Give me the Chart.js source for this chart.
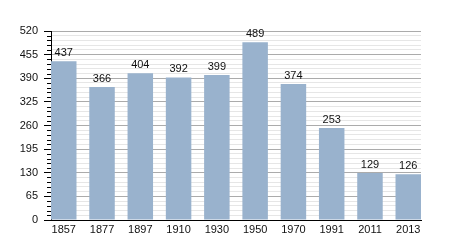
<!DOCTYPE html>
<html>
<head>
<meta charset="utf-8">
<script src="https://cdn.jsdelivr.net/npm/chart.js@4/dist/chart.umd.min.js"></script>
<style>
html,body{margin:0;padding:0;background:#fff;}
#wrap{width:450px;height:250px;}
</style>
</head>
<body>
<div id="wrap"><canvas id="c" width="450" height="250"></canvas></div>
<script>
const years = ["1857","1877","1897","1910","1930","1950","1970","1991","2011","2013"];
const population = [437,366,404,392,399,489,374,253,129,126];
const yMax = 520;
const majorStep = 65;
const minorStep = 13;

const font = {family:"'Liberation Sans', Arial, sans-serif", size:11};

const labelPlugin = {
  id:'labels',
  afterDatasetsDraw(chart){
    const ctx = chart.ctx;
    const meta = chart.getDatasetMeta(0);
    ctx.save();
    ctx.font = "11px 'Liberation Sans', Arial, sans-serif";
    ctx.fillStyle = '#111';
    ctx.textAlign = 'center';
    ctx.textBaseline = 'bottom';
    meta.data.forEach((el,i)=>{
      ctx.fillText(String(population[i]), el.x, el.y - 3);
    });
    ctx.restore();
  }
};

const minorTickPlugin = {
  id:'minorTicks',
  afterDraw(chart){
    const y = chart.scales.y;
    const ctx = chart.ctx;
    const left = chart.chartArea.left;
    ctx.save();
    ctx.strokeStyle = '#000';
    ctx.lineWidth = 1;
    y.ticks.forEach(t=>{
      if (t.value % majorStep !== 0) {
        const py = Math.round(y.getPixelForValue(t.value)) + 0.5;
        ctx.beginPath();
        ctx.moveTo(left - 4, py);
        ctx.lineTo(left, py);
        ctx.stroke();
      }
    });
    ctx.restore();
  }
};

new Chart(document.getElementById('c'), {
  type:'bar',
  data:{
    datasets:[{
      data: population.map((v,i)=>({x:i,y:v})),
      backgroundColor:'#99b2cd',
      borderWidth:0,
      categoryPercentage:1,
      barPercentage:0.666
    }]
  },
  options:{
    responsive:false,
    animation:false,
    layout:{padding:{left:0,right:29,top:31,bottom:0}},
    plugins:{legend:{display:false},tooltip:{enabled:false}},
    scales:{
      x:{
        type:'linear',
        offset:false,
        min:-0.333,
        max:9.333,
        afterBuildTicks(scale){ scale.ticks = years.map((_,i)=>({value:i})); },
        afterFit(scale){ scale.height = 30; },
        grid:{display:false, drawTicks:false},
        border:{display:true,color:'#000',width:1},
        ticks:{
          autoSkip:false, maxRotation:0, padding:3,
          color:'#111', font:font,
          callback:(v)=>years[v]
        }
      },
      y:{
        min:0, max:yMax,
        afterFit(scale){ scale.width = 51; },
        border:{display:true,color:'#000',width:1},
        grid:{
          color:(c)=> (c.tick && c.tick.value % majorStep === 0) ? '#ababab' : '#e6e6e6',
          tickColor:(c)=> (c.tick && c.tick.value % majorStep === 0) ? '#000' : 'rgba(0,0,0,0)',
          tickLength:7,
          drawTicks:true
        },
        ticks:{
          stepSize:minorStep, autoSkip:false, padding:6,
          color:'#111', font:font,
          callback:(v)=> (v % majorStep === 0) ? String(v) : ''
        }
      }
    }
  },
  plugins:[labelPlugin, minorTickPlugin]
});
</script>
</body>
</html>
